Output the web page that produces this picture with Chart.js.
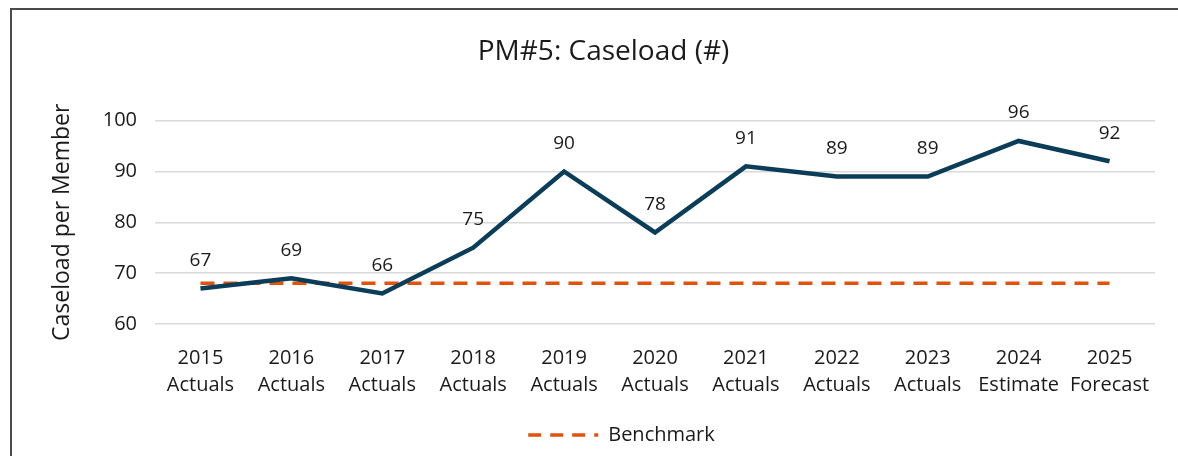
<!DOCTYPE html>
<html>
<head>
<meta charset="utf-8">
<script src="https://cdn.jsdelivr.net/npm/chart.js@4"></script>
<style>
  html, body { margin: 0; padding: 0; background: #fff; overflow: hidden; }
  .frame {
    position: absolute; left: 10px; top: 8px; width: 1200px; height: 500px;
    border: 2px solid #4a4a4a; box-sizing: border-box;
  }
  .wrap { position: absolute; left: 0; top: 0; width: 1178px; height: 456px; }
</style>
</head>
<body>
<div class="frame"></div>
<div class="wrap"><canvas id="myChart" width="1178" height="456"></canvas></div>
<script>
  // chart data
  const years = ["2015", "2016", "2017", "2018", "2019", "2020", "2021", "2022", "2023", "2024", "2025"];
  const kinds = ["Actuals", "Actuals", "Actuals", "Actuals", "Actuals", "Actuals", "Actuals", "Actuals", "Actuals", "Estimate", "Forecast"];
  const caseload = [67, 69, 66, 75, 90, 78, 91, 89, 89, 96, 92];
  const benchmark = [68, 68, 68, 68, 68, 68, 68, 68, 68, 68, 68];
  const yTicks = [60, 70, 80, 90, 100];

  const labels = years.map((y, i) => [y, kinds[i]]);
  const FONT = "'Open Sans', 'Noto Sans', sans-serif";

  // value labels above the caseload line
  const valueLabels = {
    id: "valueLabels",
    afterDatasetsDraw(chart) {
      const ctx = chart.ctx;
      const meta = chart.getDatasetMeta(0);
      ctx.save();
      ctx.font = "19px " + FONT;
      ctx.fillStyle = "#1a1a1a";
      ctx.textAlign = "center";
      ctx.textBaseline = "middle";
      meta.data.forEach((pt, i) => {
        ctx.fillText(String(caseload[i]), pt.x, pt.y - 28);
      });
      ctx.restore();
    },
  };

  // title and legend sit a bit right of the canvas centre in the original
  const nudge = {
    id: "nudge",
    afterLayout(chart) {
      chart.titleBlock.left += 8;
      chart.titleBlock.right += 8;
      chart.legend.left += 26;
      chart.legend.right += 26;
    },
  };

  const ctx = document.getElementById("myChart");
  new Chart(ctx, {
    type: "line",
    data: {
      labels: labels,
      datasets: [
        {
          label: "Caseload",
          data: caseload,
          borderColor: "#0b3c58",
          borderWidth: 4.5,
          pointRadius: 0,
          tension: 0,
          order: 1,
        },
        {
          label: "Benchmark",
          data: benchmark,
          borderColor: "#e0530f",
          backgroundColor: "#e0530f",
          borderWidth: 3.5,
          borderDash: [14, 9],
          pointRadius: 0,
          pointStyle: "line",
          tension: 0,
          order: 2,
        },
      ],
    },
    options: {
      responsive: false,
      animation: false,
      layout: {
        padding: { left: 36, right: 23, top: 20, bottom: 1 },
      },
      plugins: {
        title: {
          display: true,
          text: "PM#5: Caseload (#)",
          color: "#1a1a1a",
          font: { size: 28, family: FONT, weight: "normal" },
          padding: { top: 15, bottom: 52 },
        },
        legend: {
          position: "bottom",
          labels: {
            color: "#1a1a1a",
            font: { size: 20, family: FONT },
            usePointStyle: true,
            pointStyleWidth: 70,
            boxHeight: 10,
            padding: 10,
            generateLabels: (chart) => {
              const items = Chart.defaults.plugins.legend.labels.generateLabels(chart);
              return items
                .filter((item) => item.datasetIndex === 1)
                .map((item) => Object.assign(item, { lineDash: [13, 9], lineWidth: 3.5, strokeStyle: "#e0530f" }));
            },
          },
        },
        tooltip: { enabled: false },
      },
      scales: {
        x: {
          offset: true,
          grid: { display: false, offset: true },
          border: { display: false },
          afterFit: (scale) => {
            scale.height = 91;
          },
          ticks: {
            color: "#1a1a1a",
            font: { size: 20, family: FONT, lineHeight: 1.35 },
            maxRotation: 0,
            autoSkip: false,
            padding: 13,
          },
        },
        y: {
          min: 60,
          max: 100,
          afterBuildTicks: (scale) => {
            scale.ticks = yTicks.map((v) => ({ value: v }));
          },
          afterFit: (scale) => {
            scale.width = 119;
          },
          grid: { color: "#d9d9d9", lineWidth: 1.5, drawTicks: false },
          border: { display: false },
          ticks: {
            color: "#1a1a1a",
            font: { size: 20, family: FONT },
            padding: 18,
          },
          title: {
            display: true,
            text: "Caseload per Member",
            color: "#1a1a1a",
            font: { size: 23, family: FONT },
            padding: { top: 13, bottom: 0 },
          },
        },
      },
    },
    plugins: [valueLabels, nudge],
  });
</script>
</body>
</html>
